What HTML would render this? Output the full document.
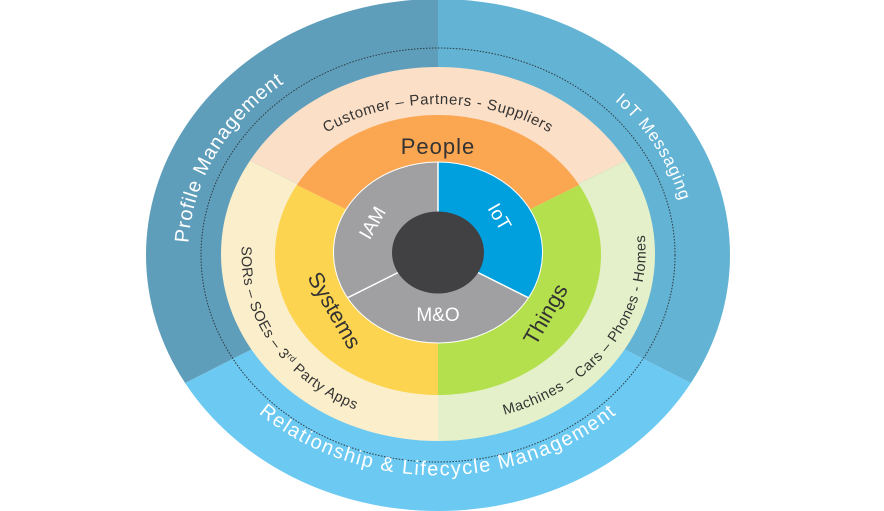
<!DOCTYPE html>
<html><head><meta charset="utf-8"><style>
html,body{margin:0;padding:0;background:#fff;}
svg{display:block;}
text{font-family:"Liberation Sans","DejaVu Sans",sans-serif;}
</style></head><body>
<svg width="884" height="511" viewBox="0 0 884 511" xmlns="http://www.w3.org/2000/svg">
<defs>
<path id="pLeft" d="M221.5,364 A250,218 0 0 1 403.2,39.1"/>
<path id="pRight" d="M523.5,50.1 A250,218 0 0 1 687.4,270.2"/>
<path id="pBottom" d="M226.7,381.2 A258,221 0 0 0 649.3,381.2"/>
<path id="pTop" d="M273.5,179 A190,150 0 0 1 602.5,179"/>
<path id="pSor" d="M243.7,230.2 A195,170 0 0 0 370.6,415.1"/>
<path id="pMach" d="M490,418 A200,170 0 0 0 642,220"/>
</defs>
<g transform="translate(438,255) scale(292,256)">
<path d="M0,0 L0,-1 A1,1 0 0 1 0.866,0.5 Z" fill="#63b3d4"/>
<path d="M0,0 L0.866,0.5 A1,1 0 0 1 -0.866,0.5 Z" fill="#6bc9f2"/>
<path d="M0,0 L-0.866,0.5 A1,1 0 0 1 0,-1 Z" fill="#5f9ebb"/>
</g>
<ellipse cx="438" cy="255" rx="237" ry="207" fill="none" stroke="#2d3a40" stroke-width="1" stroke-dasharray="1.5,1.5"/>
<g transform="translate(438,254) scale(217,187)">
<path d="M0,0 L-0.866,-0.5 A1,1 0 0 1 0.866,-0.5 Z" fill="#fbdfc6"/>
<path d="M0,0 L0.866,-0.5 A1,1 0 0 1 0,1 Z" fill="#e4f0c9"/>
<path d="M0,0 L0,1 A1,1 0 0 1 -0.866,-0.5 Z" fill="#fbeecb"/>
</g>
<g transform="translate(438,255) scale(163,140)">
<path d="M0,0 L-0.866,-0.5 A1,1 0 0 1 0.866,-0.5 Z" fill="#fba651"/>
<path d="M0,0 L0.866,-0.5 A1,1 0 0 1 0,1 Z" fill="#b5e04d"/>
<path d="M0,0 L0,1 A1,1 0 0 1 -0.866,-0.5 Z" fill="#fdd44f"/>
</g>
<g transform="translate(438,252.5) scale(104.5,90.5)">
<path d="M0,0 L0,-1 A1,1 0 0 1 0.866,0.5 Z" fill="#00a0df"/>
<path d="M0,0 L0.866,0.5 A1,1 0 0 1 -0.866,0.5 Z" fill="#a0a0a2"/>
<path d="M0,0 L-0.866,0.5 A1,1 0 0 1 0,-1 Z" fill="#a0a0a2"/>
</g>
<ellipse cx="438" cy="252.5" rx="104.5" ry="90.5" fill="none" stroke="#fff" stroke-width="1"/>
<line x1="438" y1="252.5" x2="347.5" y2="297.8" stroke="#fff" stroke-width="1.5"/>
<line x1="438" y1="252.5" x2="528.5" y2="297.8" stroke="#fff" stroke-width="1.5"/>
<line x1="438" y1="252.5" x2="438" y2="162" stroke="#fff" stroke-width="1.5"/>
<ellipse cx="438" cy="252.5" rx="46" ry="41" fill="#414143"/>

<text font-size="20" fill="#fff" letter-spacing="0.8"><textPath href="#pLeft" startOffset="50%" text-anchor="middle">Profile Management</textPath></text>
<text font-size="17" fill="#fff" letter-spacing="0.8"><textPath href="#pRight" startOffset="56%" text-anchor="middle">IoT Messaging</textPath></text>
<text font-size="20" fill="#fff" letter-spacing="1.5"><textPath href="#pBottom" startOffset="50%" text-anchor="middle">Relationship &amp; Lifecycle Management</textPath></text>
<text font-size="15" fill="#333" letter-spacing="0.6"><textPath href="#pTop" startOffset="50%" text-anchor="middle">Customer – Partners - Suppliers</textPath></text>
<text font-size="14.5" fill="#333" letter-spacing="0.5"><textPath href="#pSor" startOffset="50%" text-anchor="middle">SORs – SOEs – 3<tspan font-size="9" dy="-5">rd</tspan><tspan dy="5"> Party Apps</tspan></textPath></text>
<text font-size="14.5" fill="#333" letter-spacing="0.5"><textPath href="#pMach" startOffset="50%" text-anchor="middle">Machines – Cars – Phones - Homes</textPath></text>
<text x="438" y="154" font-size="22" fill="#333" text-anchor="middle" letter-spacing="1">People</text>
<text x="0" y="0" font-size="22" fill="#333" text-anchor="middle" transform="translate(328,314) rotate(60)">Systems</text>
<text x="0" y="0" font-size="22" fill="#333" text-anchor="middle" transform="translate(552,318) rotate(-60)">Things</text>
<text x="0" y="0" font-size="19" fill="#fff" text-anchor="middle" transform="translate(378,226) rotate(-60)">IAM</text>
<text x="0" y="0" font-size="19" fill="#fff" text-anchor="middle" transform="translate(494,220) rotate(60)">IoT</text>
<text x="438" y="321" font-size="19" fill="#fff" text-anchor="middle">M&amp;O</text>
</svg>
</body></html>
